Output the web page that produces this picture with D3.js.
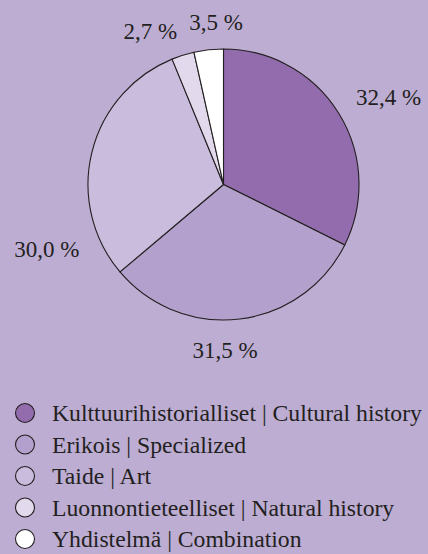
<!DOCTYPE html>
<html>
<head>
<meta charset="utf-8">
<script src="https://cdn.jsdelivr.net/npm/d3@7"></script>
<style>
  html, body { margin: 0; padding: 0; background: #bdadd3; }
  svg { display: block; }
</style>
</head>
<body>
<svg class="chart" width="428" height="554"></svg>
<script>
var categories = [
    "Kulttuurihistorialliset | Cultural history",
    "Erikois | Specialized",
    "Taide | Art",
    "Luonnontieteelliset | Natural history",
    "Yhdistelmä | Combination"
];
var values = [32.4, 31.5, 30.0, 2.7, 3.5];
var valueLabels = ["32,4 %", "31,5 %", "30,0 %", "2,7 %", "3,5 %"];
var colors = ["#936cae", "#b4a0cc", "#c9bcdd", "#e2d9ec", "#ffffff"];

// hand placement of the value labels: angle nudge (deg) and radius
var labelNudge = [[3.7, 187], [6.3, 165], [-33.7, 188], [-8.1, 170], [3.7, 163]];

var serif = "Liberation Serif, Times New Roman, serif";
var width = 428, height = 554;
var cx = 223.5, cy = 184.5, radius = 135.5;

var chart = d3.select('.chart');

var pie = d3.pie().sort(null).value(function(d) { return d; });
var arcs = pie(values);

var arc = d3.arc().innerRadius(0).outerRadius(radius);

var main = chart.append('g')
    .attr('transform', 'translate(' + cx + ',' + cy + ')');

main.selectAll('path')
    .data(arcs)
    .enter().append('path')
    .attr('d', arc)
    .style('fill', function(d, i) { return colors[i]; })
    .style('stroke', '#231f20')
    .style('stroke-width', 1.1)
    .style('stroke-linejoin', 'round');

main.selectAll('text.val')
    .data(arcs)
    .enter().append('text')
    .attr('class', 'val')
    .attr('x', function(d, i) {
        var a = (d.startAngle + d.endAngle) / 2 + labelNudge[i][0] * Math.PI / 180;
        return Math.sin(a) * labelNudge[i][1];
    })
    .attr('y', function(d, i) {
        var a = (d.startAngle + d.endAngle) / 2 + labelNudge[i][0] * Math.PI / 180;
        return -Math.cos(a) * labelNudge[i][1];
    })
    .attr('dy', '0.35em')
    .attr('text-anchor', 'middle')
    .attr('font-family', serif)
    .attr('font-size', 23)
    .attr('fill', '#231f20')
    .text(function(d, i) { return valueLabels[i]; });

// legend
var rowY = d3.scalePoint()
    .domain(categories)
    .range([413, 539]);

var legend = chart.append('g').attr('class', 'legend');

var rows = legend.selectAll('g')
    .data(categories)
    .enter().append('g')
    .attr('transform', function(d) { return 'translate(0,' + rowY(d) + ')'; });

rows.append('circle')
    .attr('cx', 25)
    .attr('cy', 0)
    .attr('r', 9.5)
    .style('fill', function(d, i) { return colors[i]; })
    .style('stroke', '#231f20')
    .style('stroke-width', 1.1);

rows.append('text')
    .attr('x', 52)
    .attr('y', 8)
    .attr('font-family', serif)
    .attr('font-size', 23.7)
    .attr('fill', '#231f20')
    .text(function(d) { return d; });
</script>
</body>
</html>
